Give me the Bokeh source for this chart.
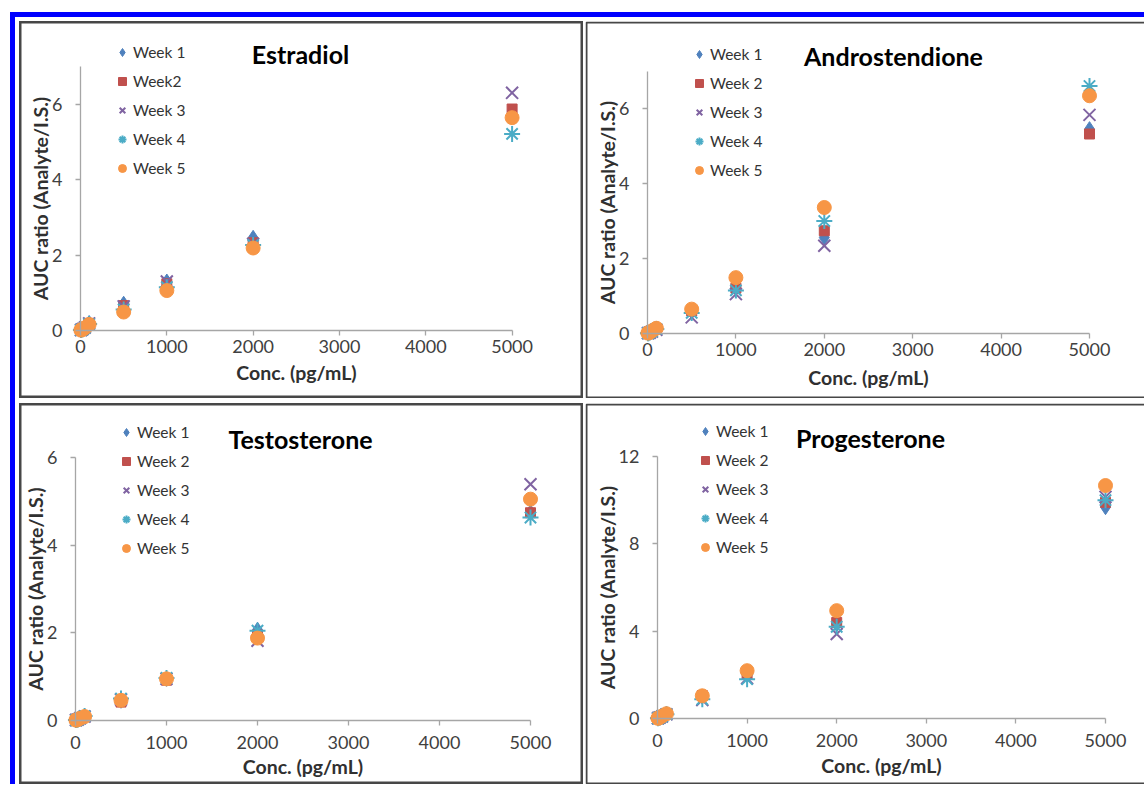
from bokeh.plotting import figure
from bokeh.layouts import row, column
from bokeh.models import Range1d, Legend, LegendItem, Label, Div, Spacer, FixedTicker, BoxAnnotation
from bokeh.embed import file_html
from bokeh.resources import INLINE

# ---------------- data ----------------
conc = [5, 10, 25, 50, 100, 500, 1000, 2000, 5000]

estradiol_w1 = [0.01, 0.02, 0.04, 0.09, 0.20, 0.71, 1.30, 2.46, 5.70]
estradiol_w2 = [0.01, 0.02, 0.04, 0.08, 0.19, 0.66, 1.24, 2.33, 5.88]
estradiol_w3 = [0.01, 0.02, 0.04, 0.08, 0.19, 0.64, 1.30, 2.30, 6.31]
estradiol_w4 = [0.01, 0.02, 0.03, 0.07, 0.17, 0.56, 1.15, 2.27, 5.22]
estradiol_w5 = [0.01, 0.02, 0.03, 0.07, 0.16, 0.49, 1.06, 2.19, 5.65]

andro_w1 = [0.01, 0.01, 0.03, 0.06, 0.12, 0.58, 1.24, 2.56, 5.45]
andro_w2 = [0.01, 0.01, 0.03, 0.06, 0.12, 0.60, 1.21, 2.74, 5.32]
andro_w3 = [0.01, 0.01, 0.02, 0.05, 0.10, 0.43, 1.05, 2.34, 5.83]
andro_w4 = [0.01, 0.01, 0.03, 0.06, 0.12, 0.55, 1.15, 3.00, 6.60]
andro_w5 = [0.01, 0.02, 0.03, 0.07, 0.14, 0.65, 1.49, 3.36, 6.34]

testo_w1 = [0.01, 0.01, 0.02, 0.05, 0.09, 0.45, 0.95, 2.07, 4.75]
testo_w2 = [0.01, 0.01, 0.02, 0.04, 0.09, 0.42, 0.92, 1.95, 4.74]
testo_w3 = [0.01, 0.01, 0.02, 0.05, 0.09, 0.48, 0.95, 1.82, 5.39]
testo_w4 = [0.01, 0.01, 0.02, 0.05, 0.10, 0.50, 0.97, 2.05, 4.63]
testo_w5 = [0.01, 0.01, 0.02, 0.05, 0.09, 0.46, 0.95, 1.88, 5.05]

proges_w1 = [0.01, 0.02, 0.05, 0.10, 0.20, 1.00, 2.00, 4.33, 9.68]
proges_w2 = [0.01, 0.02, 0.05, 0.10, 0.20, 1.05, 2.02, 4.40, 9.90]
proges_w3 = [0.01, 0.02, 0.05, 0.09, 0.19, 0.85, 1.85, 3.87, 10.15]
proges_w4 = [0.01, 0.02, 0.05, 0.10, 0.20, 0.88, 1.80, 4.20, 10.00]
proges_w5 = [0.01, 0.02, 0.05, 0.11, 0.22, 1.04, 2.19, 4.94, 10.67]

labels_std = ["Week 1", "Week 2", "Week 3", "Week 4", "Week 5"]
labels_estradiol = ["Week 1", "Week2", "Week 3", "Week 4", "Week 5"]

x_ticks = [0, 1000, 2000, 3000, 4000, 5000]

# ---------------- style ----------------
FONT = "Lato"
MARKERS = ["diamond", "square", "x", "asterisk", "circle"]
COLORS = ["#4F81BD", "#C0504D", "#8064A2", "#4BACC6", "#F79646"]
SIZES = [15, 10, 17, 16, 14]
BORDER = "#474747"


def make_panel(W, H, x0_px, x5_px, y0_px, yt_px, yt_val, ymax, yticks,
               title, title_xy, leg_xy, labels, series,
               xl_stand, xt_stand, yl_stand, yt_stand, open_right=False):
    kx = (x5_px - x0_px) / 5000.0
    ky = (y0_px - yt_px) / float(yt_val)
    p = figure(width=W, height=H, output_backend="svg", toolbar_location=None,
               x_range=Range1d(-x0_px / kx, (W - x0_px) / kx),
               y_range=Range1d(-(H - y0_px) / ky, y0_px / ky),
               min_border=0, min_border_left=0, min_border_right=0,
               min_border_top=0, min_border_bottom=0)
    p.grid.visible = False
    p.background_fill_color = "white"
    p.border_fill_color = "white"
    if open_right:
        p.outline_line_color = None
        p.add_layout(BoxAnnotation(left=1, right=W + 20, bottom=1, top=H - 1,
                                   left_units="screen", right_units="screen",
                                   bottom_units="screen", top_units="screen",
                                   fill_alpha=0, fill_color=None,
                                   line_color=BORDER, line_alpha=1.0, line_width=2))
    else:
        p.outline_line_color = BORDER
        p.outline_line_width = 4

    rends = []
    for vals, m, c, s in zip(series, MARKERS, COLORS, SIZES):
        r = p.scatter(conc, vals, marker=m, size=s, fill_color=c, line_color=c,
                      line_width=2 if m in ("x", "asterisk") else 1)
        rends.append(r)

    xa = p.xaxis[0]
    ya = p.yaxis[0]
    xa.fixed_location = 0
    ya.fixed_location = 0
    xa.bounds = (0, 5000)
    ya.bounds = (0, ymax)
    xa.ticker = FixedTicker(ticks=x_ticks)
    ya.ticker = FixedTicker(ticks=yticks)
    xa.axis_label = "Conc. (pg/mL)"
    ya.axis_label = "AUC ratio (Analyte/I.S.)"
    for ax in (xa, ya):
        ax.axis_line_color = "#A6A6A6"
        ax.axis_line_width = 1.3
        ax.major_tick_line_color = "#A6A6A6"
        ax.major_tick_line_width = 1.3
        ax.major_tick_out = 5
        ax.major_tick_in = 0
        ax.minor_tick_line_color = None
        ax.major_label_text_font = FONT
        ax.major_label_text_font_size = "18px"
        ax.major_label_text_color = "#404040"
        ax.axis_label_text_font = FONT
        ax.axis_label_text_font_size = "19.5px"
        ax.axis_label_text_font_style = "bold"
        ax.axis_label_text_color = "#303030"
    xa.major_label_standoff = xl_stand
    xa.axis_label_standoff = xt_stand
    ya.major_label_standoff = yl_stand
    ya.axis_label_standoff = yt_stand

    p.add_layout(Label(x=title_xy[0], y=H - title_xy[1], x_units="screen", y_units="screen",
                       text=title, text_align="center", text_baseline="middle",
                       text_font=FONT, text_font_size="25px", text_font_style="bold",
                       text_color="black"))

    gh, sp = 20, 9
    leg_h = 5 * gh + 4 * sp
    items = [LegendItem(label=l, renderers=[r]) for l, r in zip(labels, rends)]
    leg = Legend(items=items, location=(leg_xy[0] - 10, H - (leg_xy[1] - gh / 2) - leg_h),
                 orientation="vertical", padding=0, margin=0, spacing=sp,
                 glyph_width=20, glyph_height=gh, label_height=gh, label_standoff=1,
                 label_text_font=FONT, label_text_font_size="15.5px",
                 label_text_color="#333333", border_line_color=None,
                 background_fill_alpha=0)
    p.add_layout(leg)
    return p


p_tl = make_panel(564, 377, 61, 492.6, 309, 83, 6, 7, [0, 2, 4, 6],
                  "Estradiol", (281, 32), (103, 31), labels_estradiol,
                  [estradiol_w1, estradiol_w2, estradiol_w3, estradiol_w4, estradiol_w5],
                  4, 5, 13, -3)
p_tr = make_panel(559, 377, 62, 504, 312, 87, 6, 7, [0, 2, 4, 6],
                  "Androstendione", (308, 34), (114, 33), labels_std,
                  [andro_w1, andro_w2, andro_w3, andro_w4, andro_w5],
                  4, 7, 13, -3, open_right=True)
p_bl = make_panel(564, 381, 56, 511, 317, 54, 6, 6, [0, 2, 4, 6],
                  "Testosterone", (281, 35), (107, 29), labels_std,
                  [testo_w1, testo_w2, testo_w3, testo_w4, testo_w5],
                  10, 3, 13, -3)
p_br = make_panel(559, 381, 72, 520, 315, 53, 12, 12, [0, 4, 8, 12],
                  "Progesterone", (285, 34), (120, 28), labels_std,
                  [proges_w1, proges_w2, proges_w3, proges_w4, proges_w5],
                  10, 4, 13, -3, open_right=True)

BLUE = "#0000FF"
blue_top = Div(text="", width=1134, height=5, margin=0, styles={"background-color": BLUE})
blue_left = Div(text="", width=5, height=767, margin=0, styles={"background-color": BLUE})

grid = column(Spacer(height=4, width=10, margin=0),
              row(p_tl, Spacer(width=2, height=10, margin=0), p_tr),
              Spacer(height=5, width=10, margin=0),
              row(p_bl, Spacer(width=2, height=10, margin=0), p_br))

layout = column(
    Spacer(height=12, width=10, margin=0),
    row(Spacer(width=10, height=5, margin=0), blue_top),
    row(Spacer(width=10, height=10, margin=0), blue_left, Spacer(width=4, height=10, margin=0), grid),
)

open("out.html", "w").write(file_html(layout, INLINE))
